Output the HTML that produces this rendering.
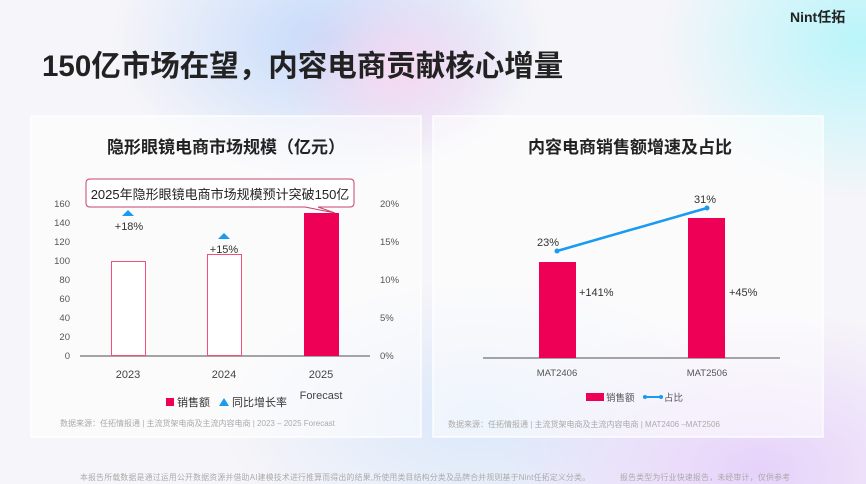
<!DOCTYPE html>
<html><head><meta charset="utf-8"><style>
html,body{margin:0;padding:0;width:866px;height:484px;overflow:hidden}
body{font-family:"Liberation Sans","Noto Sans CJK SC",sans-serif;
background:
radial-gradient(ellipse 120px 90px at 400px 70px, rgba(250,215,240,0.9), rgba(250,215,240,0) 100%),
radial-gradient(ellipse 220px 140px at 330px 40px, rgba(190,215,250,0.9), rgba(190,215,250,0) 100%),
radial-gradient(ellipse 200px 160px at 860px 40px, rgba(185,245,250,1), rgba(185,245,250,0) 100%),
radial-gradient(ellipse 260px 160px at 760px 470px, rgba(230,210,250,1), rgba(230,210,250,0) 100%),
radial-gradient(ellipse 260px 140px at 480px 420px, rgba(215,230,250,0.9), rgba(215,230,250,0) 100%),
#f6f5f9;}
</style></head><body>
<svg width="866" height="484" xmlns="http://www.w3.org/2000/svg" style="position:absolute;left:0;top:0">
<text x="790" y="22" font-size="14" font-weight="bold" fill="#222">Nint任拓</text>
<text x="42" y="76" font-size="29.5" font-weight="bold" fill="#222">150亿市场在望，内容电商贡献核心增量</text>
<rect x="31" y="116" width="390" height="321" fill="rgba(255,255,255,0.55)" stroke="rgba(255,255,255,0.9)" stroke-width="1.5"/>
<rect x="433" y="116" width="390" height="321" fill="rgba(255,255,255,0.55)" stroke="rgba(255,255,255,0.9)" stroke-width="1.5"/>
<g font-size="17" font-weight="bold" fill="#222" text-anchor="middle">
<text x="226" y="153">隐形眼镜电商市场规模（亿元）</text>
<text x="630" y="153">内容电商销售额增速及占比</text>
</g>
<g font-size="9.5" fill="#555" text-anchor="end">
<text x="70" y="207">160</text><text x="70" y="226">140</text><text x="70" y="245">120</text><text x="70" y="264">100</text>
<text x="70" y="283">80</text><text x="70" y="302">60</text><text x="70" y="321">40</text><text x="70" y="340">20</text><text x="70" y="359">0</text>
</g>
<g font-size="9.5" fill="#555">
<text x="380" y="207">20%</text><text x="380" y="245">15%</text><text x="380" y="283">10%</text><text x="380" y="321">5%</text><text x="380" y="359">0%</text>
</g>
<line x1="80" y1="356" x2="370" y2="356" stroke="#888" stroke-width="1.5"/>
<rect x="111.5" y="261.5" width="34" height="94" fill="#fff" stroke="#f0507a" stroke-width="1"/>
<rect x="207.5" y="254.5" width="34" height="101" fill="#fff" stroke="#f0507a" stroke-width="1"/>
<rect x="304" y="213" width="35" height="143" fill="#ee0056"/>
<path d="M128 210 L134 216 L122 216 Z" fill="#1a9af0"/>
<path d="M224 233 L230 239 L218 239 Z" fill="#1a9af0"/>
<text x="129" y="230" font-size="11" fill="#333" text-anchor="middle">+18%</text>
<text x="224" y="253" font-size="11" fill="#333" text-anchor="middle">+15%</text>
<path d="M90 179 Q86 179 86 183 V203 Q86 207 90 207 H305 L335 213 L318 207 H350 Q354 207 354 203 V183 Q354 179 350 179 Z" fill="#fff" stroke="#c8426a" stroke-width="1"/>
<text x="220" y="199" font-size="13" fill="#222" text-anchor="middle">2025年隐形眼镜电商市场规模预计突破150亿</text>
<g font-size="11" fill="#444" text-anchor="middle">
<text x="128" y="378">2023</text><text x="224" y="378">2024</text><text x="321" y="378">2025</text><text x="321" y="399">Forecast</text>
</g>
<rect x="166" y="398" width="8" height="8" fill="#ee0056"/>
<text x="177" y="406" font-size="11" fill="#333">销售额</text>
<path d="M224 398 L229 406 L219 406 Z" fill="#1a9af0"/>
<text x="232" y="406" font-size="11" fill="#333">同比增长率</text>
<text x="60" y="426" font-size="8" fill="#aaa">数据来源：任拓情报通 | 主流货架电商及主流内容电商 | 2023 – 2025 Forecast</text>
<line x1="483" y1="358" x2="780" y2="358" stroke="#888" stroke-width="1.5"/>
<rect x="539" y="262" width="37" height="96" fill="#ee0056"/>
<rect x="688" y="218" width="37" height="140" fill="#ee0056"/>
<line x1="557" y1="251" x2="707" y2="208" stroke="#1a9af0" stroke-width="2.5"/>
<circle cx="557" cy="251" r="2.5" fill="#1a9af0"/><circle cx="707" cy="208" r="2.5" fill="#1a9af0"/>
<g font-size="11" fill="#333">
<text x="537" y="246">23%</text><text x="694" y="203">31%</text>
<text x="579" y="296">+141%</text><text x="729" y="296">+45%</text>
</g>
<g font-size="9.5" fill="#555" text-anchor="middle">
<text x="557" y="376">MAT2406</text><text x="707" y="376">MAT2506</text>
</g>
<rect x="586" y="393" width="18" height="8" fill="#ee0056"/>
<text x="606" y="401" font-size="9.5" fill="#555">销售额</text>
<line x1="643" y1="397" x2="663" y2="397" stroke="#1a9af0" stroke-width="2"/>
<circle cx="645" cy="397" r="2" fill="#1a9af0"/><circle cx="661" cy="397" r="2" fill="#1a9af0"/>
<text x="664" y="401" font-size="9.5" fill="#555">占比</text>
<text x="448" y="427" font-size="8" fill="#aaa">数据来源：任拓情报通 | 主流货架电商及主流内容电商 | MAT2406 –MAT2506</text>
<text x="80" y="480" font-size="7.8" fill="#aaa" textLength="510">本报告所载数据是通过运用公开数据资源并借助AI建模技术进行推算而得出的结果,所使用类目结构分类及品牌合并规则基于Nint任拓定义分类。</text>
<text x="620" y="480" font-size="7.8" fill="#aaa" textLength="170">报告类型为行业快速报告，未经审计，仅供参考</text>
</svg>
</body></html>
